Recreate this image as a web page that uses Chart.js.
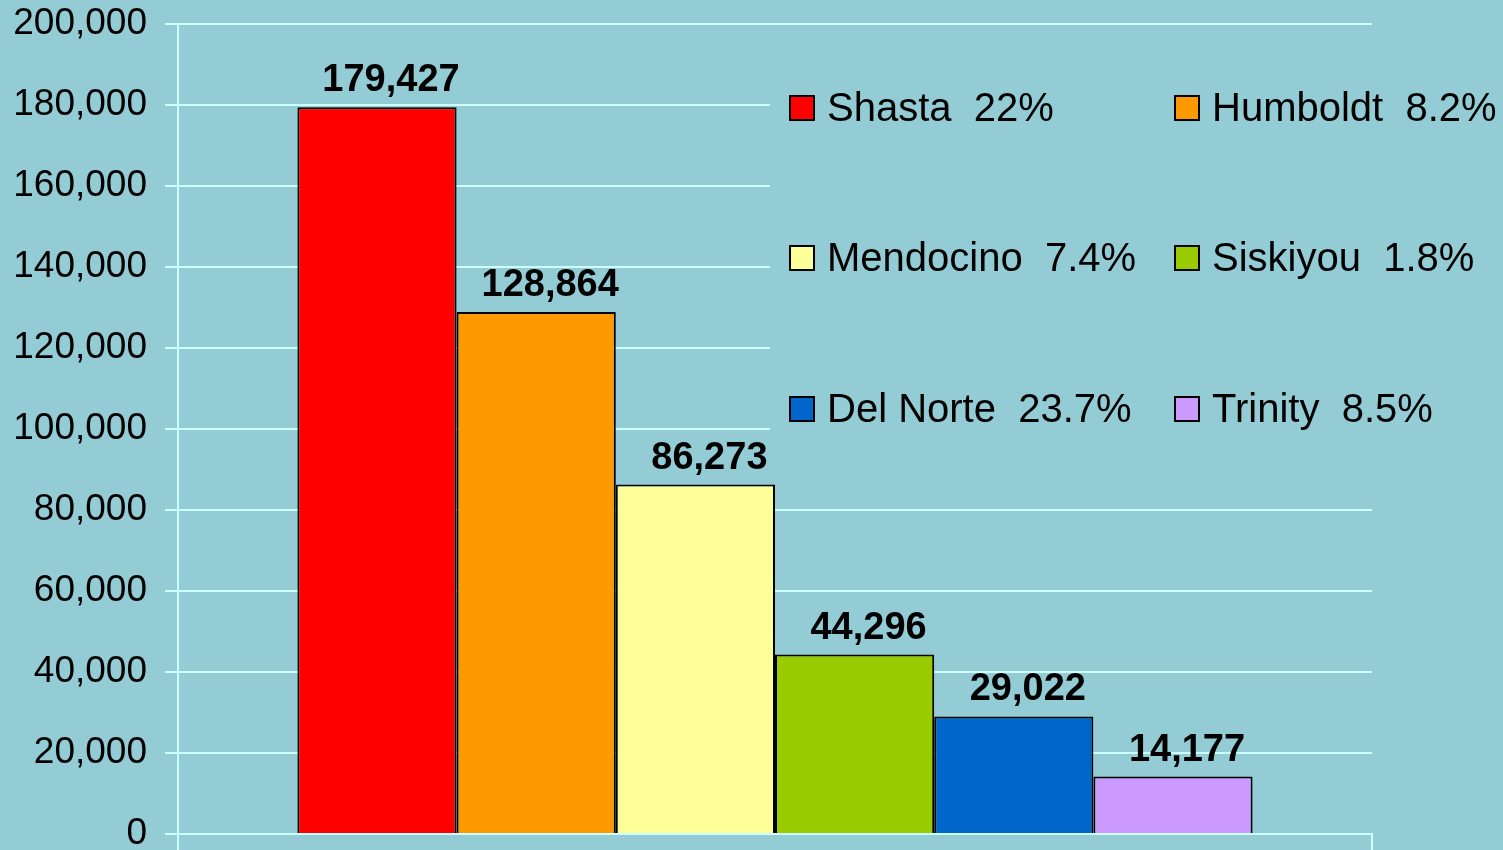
<!DOCTYPE html>
<html>
<head>
<meta charset="utf-8">
<script src="https://cdn.jsdelivr.net/npm/chart.js@4.4.0/dist/chart.umd.min.js"></script>
<style>
  html, body { margin: 0; padding: 0; background: #93CCD4; }
  #wrap { width: 1503px; height: 850px; position: relative; }
</style>
</head>
<body>
<div id="wrap"><canvas id="c" width="1503" height="850"></canvas></div>
<script>
const counties = ['Shasta', 'Humboldt', 'Mendocino', 'Siskiyou', 'Del Norte', 'Trinity'];
const values = [179427, 128864, 86273, 44296, 29022, 14177];
const pctLabels = ['22%', '8.2%', '7.4%', '1.8%', '23.7%', '8.5%'];
const colors = ['#FF0000', '#FF9900', '#FFFF99', '#99CC00', '#0066CC', '#CC99FF'];
const yTicks = [0, 20000, 40000, 60000, 80000, 100000, 120000, 140000, 160000, 180000, 200000];

const BG = '#93CCD4';
const GRID = '#CCFFFF';
const FONT = '"Liberation Sans", Arial, sans-serif';
const fmt = v => v.toLocaleString('en-US');

const datasets = counties.map((name, i) => ({
  label: name,
  data: [values[i]],
  backgroundColor: colors[i],
  borderColor: '#000000',
  borderWidth: 2,
  categoryPercentage: 0.8,
  barPercentage: 1.0
}));

const legendBoxPlugin = {
  id: 'legendBox',
  beforeDatasetsDraw(chart) {
    const ctx = chart.ctx;
    ctx.save();
    ctx.fillStyle = BG;
    ctx.fillRect(770, 40, 733, 440);
    ctx.restore();
  },
  afterDraw(chart) {
    const ctx = chart.ctx;
    ctx.save();
    ctx.font = 'bold 38px ' + FONT;
    ctx.fillStyle = '#000';
    ctx.textAlign = 'center';
    ctx.textBaseline = 'alphabetic';
    chart.data.datasets.forEach((ds, i) => {
      const el = chart.getDatasetMeta(i).data[0];
      ctx.fillText(fmt(ds.data[0]), el.x + 14, el.y - 16);
    });
    ctx.font = '40px ' + FONT;
    ctx.textAlign = 'left';
    ctx.textBaseline = 'middle';
    const colX = [790, 1175];
    const rowY = [108, 258, 409];
    counties.forEach((name, i) => {
      const x = colX[i % 2];
      const y = rowY[Math.floor(i / 2)];
      ctx.fillStyle = colors[i];
      ctx.fillRect(x, y - 12, 24, 24);
      ctx.lineWidth = 2;
      ctx.strokeStyle = '#000';
      ctx.strokeRect(x, y - 12, 24, 24);
      ctx.fillStyle = '#000';
      ctx.fillText(name + '\u00A0\u00A0' + pctLabels[i], x + 37, y + 2);
    });
    ctx.restore();
  }
};

new Chart(document.getElementById('c'), {
  type: 'bar',
  data: { labels: [''], datasets },
  options: {
    responsive: false,
    animation: false,
    devicePixelRatio: 1,
    layout: { padding: { top: 24, right: 131, bottom: 0, left: 0 } },
    plugins: { legend: { display: false }, tooltip: { enabled: false } },
    scales: {
      x: {
        afterFit(scale) { scale.height = 16; scale.paddingLeft = 0; scale.paddingRight = 0; },
        grid: { drawOnChartArea: false, drawTicks: true, tickLength: 16, color: GRID, lineWidth: 2 },
        border: { display: true, color: GRID, width: 2 },
        ticks: { display: false }
      },
      y: {
        min: 0,
        max: 200000,
        afterFit(scale) { scale.width = 178; scale.paddingTop = 0; scale.paddingBottom = 0; },
        afterBuildTicks(scale) { scale.ticks = yTicks.map(v => ({ value: v })); },
        grid: { color: GRID, lineWidth: 2, tickLength: 13 },
        border: { display: true, color: GRID, width: 2 },
        ticks: {
          padding: 18,
          color: '#000',
          font: { family: FONT, size: 37 },
          callback: v => fmt(v)
        }
      }
    }
  },
  plugins: [legendBoxPlugin]
});
</script>
</body>
</html>
